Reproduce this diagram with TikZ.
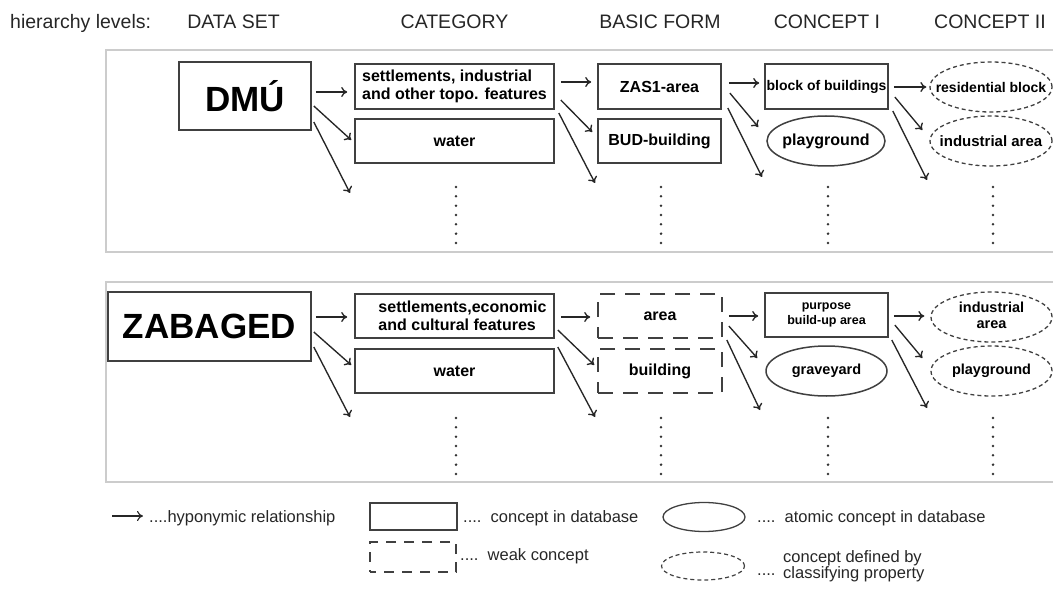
\documentclass[tikz,border=0pt]{standalone}
\usepackage{fontspec}
\setmainfont{Liberation Sans}
\usetikzlibrary{arrows.meta,shapes.geometric}
\newcommand{\zerowd}[1]{\makebox[0pt]{#1}}
\begin{document}
\begin{tikzpicture}[x=1pt,y=-1pt,
  hdr/.style={font=\fontsize{19.5}{22}\selectfont, text=black!85, inner sep=0},
  cbox/.style={draw=black!75, line width=1.6pt, rectangle, inner sep=0, align=center, text=black,
               font=\bfseries\fontsize{16}{18.5}\selectfont},
  wbox/.style={cbox, dash pattern=on 15pt off 10pt},
  atom/.style={ellipse, draw=black!75, line width=1.5pt, inner sep=0, align=center, text=black,
               font=\bfseries\fontsize{16}{18}\selectfont},
  cls/.style={atom, dash pattern=on 4pt off 3pt, line width=1.3pt},
  arr/.style={-{To[length=6pt,width=10pt]}, line width=1.35pt, draw=black!85},
  panel/.style={draw=black!20, line width=1.2pt},
  leg/.style={font=\fontsize{16.5}{16}\selectfont, inner sep=0, text=black!85},
  big/.style={font=\bfseries\fontsize{35}{40}\selectfont}
]
\useasboundingbox (0,0) rectangle (1053,591);

% header
\node[hdr, anchor=base west] (h0) at (10,29) {hierarchy levels:};
\node[hdr, anchor=base] (h1) at (233.5,29) {DATA SET};
\node[hdr, anchor=base] (h2) at (454.5,29) {CATEGORY};
\node[hdr, anchor=base] (h3) at (660,29) {BASIC FORM};
\node[hdr, anchor=base] (h4) at (827,29) {CONCEPT I};
\node[hdr, anchor=base] (h5) at (990,29) {CONCEPT II};

% panels
\draw[panel] (1053,50) -- (106,50) -- (106,252) -- (1053,252);
\draw[panel] (1053,282) -- (106,282) -- (106,482) -- (1053,482);

% ---------- top panel ----------
\node[cbox, big, minimum width=132, minimum height=68] (dmu) at (245,96) {DMÚ};
\node[cbox, minimum width=199, minimum height=45, align=left] (cat1) at (454.5,86.5) {settlements, industrial\\and other topo. features};
\node[cbox, minimum width=199, minimum height=44] (cat2) at (454.5,141) {water};
\node[cbox, minimum width=123, minimum height=45] (bf1) at (659.5,86.5) {ZAS1-area};
\node[cbox, minimum width=123, minimum height=44] (bf2) at (659.5,141) {BUD-building};
\node[cbox, minimum width=123, minimum height=45, font=\bfseries\fontsize{14}{16}\selectfont] (c1a) at (826.5,86.5) {block of buildings};
\node[atom, minimum width=118, minimum height=50] (c1b) at (826,141) {\zerowd{playground}};
\node[cls, minimum width=122, minimum height=50, font=\bfseries\fontsize{14}{16}\selectfont] (c2a) at (991,87) {\zerowd{residential block}};
\node[cls, minimum width=122, minimum height=50, font=\bfseries\fontsize{15}{17}\selectfont] (c2b) at (991,141) {\zerowd{industrial area}};

\coordinate (f1) at (350,193);
\coordinate (f2) at (595,183);
\coordinate (f3) at (762,177);
\coordinate (f4) at (927,180);

\draw[arr] ([shift={(4,-4)}]dmu.east) -- ([shift={(-7,5.5)}]cat1.west);
\draw[arr] ([shift={(2,10)}]dmu.east) -- ([shift={(-3,-1)}]cat2.west);
\draw[arr] ([shift={(2,26)}]dmu.east) -- (f1);
\draw[arr] ([shift={(6,-4.5)}]cat1.east) -- ([shift={(-6,-4.5)}]bf1.west);
\draw[arr] ([shift={(6,13.5)}]cat1.east) -- ([shift={(-5,-9)}]bf2.west);
\draw[arr] ([shift={(4,26.5)}]cat1.east) -- (f2);
\draw[arr] ([shift={(7,-3.5)}]bf1.east) -- ([shift={(-5,-3.5)}]c1a.west);
\draw[arr] ([shift={(8,6.5)}]bf1.east) -- ([shift={(-8,-14)}]c1b.west);
\draw[arr] ([shift={(6,21.5)}]bf1.east) -- (f3);
\draw[arr] ([shift={(5,0.5)}]c1a.east) -- ([shift={(-3,0)}]c2a.west);
\draw[arr] ([shift={(6,10.5)}]c1a.east) -- ([shift={(-7,-11)}]c2b.west);
\draw[arr] ([shift={(4,24.5)}]c1a.east) -- (f4);

% ---------- bottom panel ----------
\node[cbox, big, minimum width=203, minimum height=69] (zab) at (209.5,326.5) {ZABAGED};
\node[cbox, minimum width=199, minimum height=44, align=left] (cat1b) at (454.5,316) {\hspace*{16pt}settlements,economic\\\hspace*{16pt}and cultural features};
\node[cbox, minimum width=199, minimum height=44] (cat2b) at (454.5,371) {water};
\node[wbox, minimum width=124, minimum height=44] (bf1b) at (660,316) {area};
\node[wbox, minimum width=124, minimum height=44] (bf2b) at (660,371) {building};
\node[cbox, minimum width=123, minimum height=44, font=\bfseries\fontsize{12.5}{15}\selectfont] (c1ab) at (826.5,315) {purpose\\build-up area};
\node[atom, minimum width=121, minimum height=50, font=\bfseries\fontsize{14.5}{16}\selectfont] (c1bb) at (826.5,371) {\zerowd{graveyard}};
\node[cls, minimum width=121, minimum height=50, font=\bfseries\fontsize{14.5}{16}\selectfont] (c2ab) at (991.5,317) {\zerowd{\begin{tabular}{@{}c@{}}industrial\\area\end{tabular}}};
\node[cls, minimum width=121, minimum height=50, font=\bfseries\fontsize{14.5}{16}\selectfont] (c2bb) at (991.5,371) {\zerowd{playground}};

\coordinate (f5) at (350,417);
\coordinate (f6) at (595,417);
\coordinate (f7) at (760,410);
\coordinate (f8) at (927,408);

\draw[arr] ([shift={(4,-9.5)}]zab.east) -- ([shift={(-7,1)}]cat1b.west);
\draw[arr] ([shift={(2,5.5)}]zab.east) -- ([shift={(-3,-6)}]cat2b.west);
\draw[arr] ([shift={(2,20.5)}]zab.east) -- (f5);
\draw[arr] ([shift={(6,1)}]cat1b.east) -- ([shift={(-7,1)}]bf1b.west);
\draw[arr] ([shift={(3,14)}]cat1b.east) -- ([shift={(-3,-6)}]bf2b.west);
\draw[arr] ([shift={(3,31)}]cat1b.east) -- (f6);
\draw[arr] ([shift={(6,0)}]bf1b.east) -- ([shift={(-6,1)}]c1ab.west);
\draw[arr] ([shift={(6,10)}]bf1b.east) -- ([shift={(-8,-13)}]c1bb.west);
\draw[arr] ([shift={(4,24)}]bf1b.east) -- (f7);
\draw[arr] ([shift={(5,1)}]c1ab.east) -- ([shift={(-6,-1)}]c2ab.west);
\draw[arr] ([shift={(6,10)}]c1ab.east) -- ([shift={(-8,-13)}]c2bb.west);
\draw[arr] ([shift={(3,25)}]c1ab.east) -- (f8);

% vertical dotted continuations
\foreach \x in {456,661,828,993}{
  \foreach \k in {0,...,6}{
    \fill[black!80] (\x,187+9.33*\k) circle (1.4);
    \fill[black!80] (\x,418+9.33*\k) circle (1.4);
  }
}

% ---------- legend ----------
\coordinate (la) at (112,516);
\node[leg, anchor=base west] (lt1) at (149,522) {....hyponymic relationship};
\draw[arr, line width=1.1pt, shorten >=6pt] (la) -- (la -| lt1.west);

\node[cbox, minimum width=87, minimum height=27, line width=1.3pt] (lb1) at (413.5,516.5) {};
\node[leg, anchor=base west] (lt2) at (463,522) {....\ \ concept in database};

\node[cbox, minimum width=86, minimum height=30, line width=1.2pt, dash pattern=on 10pt off 8pt, dash phase=4pt] (lb2) at (413,557) {};
\node[leg, anchor=base west] (lt3) at (460,560) {....\ \ weak concept};

\node[atom, minimum width=82, minimum height=29, line width=1.3pt] (le1) at (704,517) {};
\node[leg, anchor=base west] (lt4) at (757,522) {....\ \ atomic concept in database};

\node[cls, minimum width=83, minimum height=28, line width=1.2pt] (le2) at (703,566) {};
\node[leg, anchor=base west] (lt5) at (757,575) {....};
\node[leg, anchor=north west, align=left] (lt6) at (783,550) {concept defined by\\classifying property};
\end{tikzpicture}
\end{document}
